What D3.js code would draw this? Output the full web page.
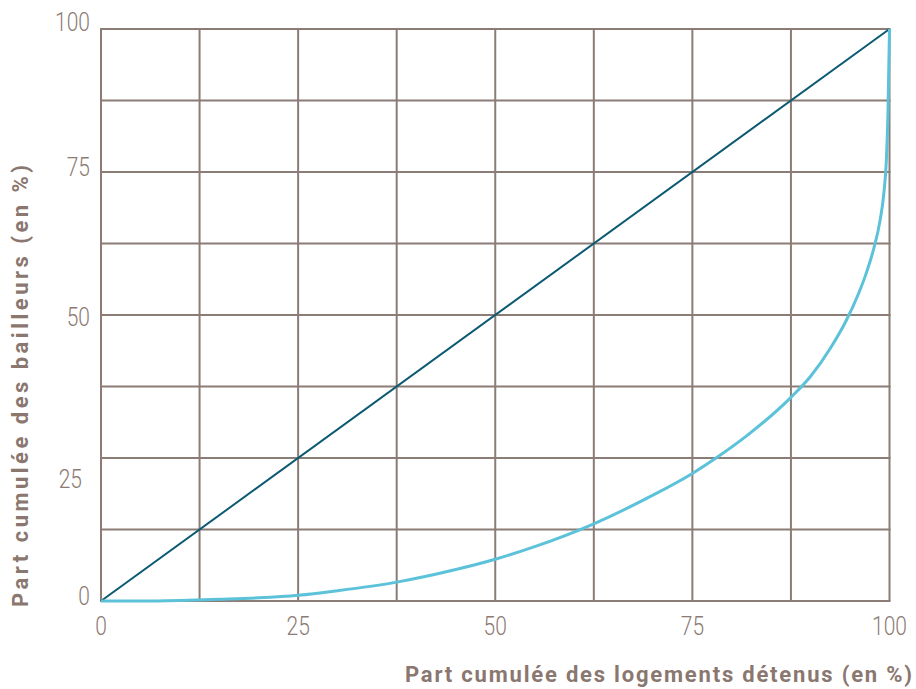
<!DOCTYPE html>
<html>
<head>
<meta charset="utf-8">
<script src="https://cdn.jsdelivr.net/npm/d3@7"></script>
<style>
  html, body { margin: 0; padding: 0; background: #ffffff; }
  svg { display: block; }
  text { font-family: "Roboto", "Liberation Sans", sans-serif; }
</style>
</head>
<body>
<svg id="chart" width="916" height="689"></svg>
<script>
// ---- Data ----
const tickValues = [0, 25, 50, 75, 100];
const gridValues = [0, 12.5, 25, 37.5, 50, 62.5, 75, 87.5, 100];
const equalityX = [0, 100];
const equalityY = [0, 100];
const lorenzX = [0, 5, 10, 15, 20, 25, 30, 37.5, 45, 50, 55, 62.5, 70, 75, 78, 82, 87.5, 90, 92.5, 94.5, 96, 97, 98, 98.8, 99.3, 99.6, 99.8, 100];
const lorenzY = [0, 0, 0.1, 0.3, 0.55, 1.0, 1.8, 3.3, 5.5, 7.3, 9.5, 13.5, 18.5, 22.3, 25, 29.0, 35.6, 39.3, 44.2, 49.0, 53.5, 57.1, 61.6, 66.5, 71.5, 77, 85, 100];
const xTitle = "Part cumulée des logements détenus (en %)";
const yTitle = "Part cumulée des bailleurs (en %)";

// ---- Layout ----
const mLeft = 101, mRight = 889.5, mTop = 29, mBottom = 601;
const gridColor = "#8b7c75";
const textColor = "#8c7b74";
const titleColor = "#8a776f";
// per-tick nudges of y labels as in the reference
const yLabelDy = [-5, 21, 2, -5, -7];
const yLabelDx = [0, -8, 0, 0, 0];
const condense = 0.84;

const svg = d3.select("#chart");
const x = d3.scaleLinear().domain([0, 100]).range([mLeft, mRight]);
const y = d3.scaleLinear().domain([0, 100]).range([mBottom, mTop]);

// grid
const g = svg.append("g");
g.selectAll("line.v").data(gridValues).join("line")
  .attr("class", "v")
  .attr("x1", d => x(d)).attr("x2", d => x(d))
  .attr("y1", mTop).attr("y2", mBottom)
  .attr("stroke", gridColor).attr("stroke-width", 2);
g.selectAll("line.h").data(gridValues).join("line")
  .attr("class", "h")
  .attr("y1", d => y(d)).attr("y2", d => y(d))
  .attr("x1", mLeft - 1).attr("x2", mRight + 1)
  .attr("stroke", gridColor).attr("stroke-width", 2);

// x tick labels
svg.append("g").selectAll("text").data(tickValues).join("text")
  .attr("transform", d => `translate(${x(d)},635) scale(${condense},1)`)
  .attr("text-anchor", "middle")
  .attr("font-size", 25).attr("font-weight", 300)
  .attr("fill", textColor)
  .text(d => d);

// y tick labels
svg.append("g").selectAll("text").data(tickValues).join("text")
  .attr("transform", (d, i) => `translate(${90 + yLabelDx[i]},${y(d) + 9 + yLabelDy[i]}) scale(${condense},1)`)
  .attr("text-anchor", "end")
  .attr("font-size", 25).attr("font-weight", 300)
  .attr("fill", textColor)
  .text(d => d);

// lines
const line = d3.line().x(d => x(d[0])).y(d => y(d[1]));
svg.append("path")
  .datum(equalityX.map((v, i) => [v, equalityY[i]]))
  .attr("d", line)
  .attr("fill", "none").attr("stroke", "#0b5a72").attr("stroke-width", 2);

const curve = d3.line().curve(d3.curveMonotoneX).x(d => x(d[0])).y(d => y(d[1]));
svg.append("path")
  .datum(lorenzX.map((v, i) => [v, lorenzY[i]]))
  .attr("d", curve)
  .attr("fill", "none").attr("stroke", "#5bc2da").attr("stroke-width", 3)
  .attr("stroke-linejoin", "round");

// axis titles
svg.append("text")
  .attr("x", 912).attr("y", 682)
  .attr("text-anchor", "end")
  .attr("font-size", 22).attr("font-weight", "bold")
  .attr("fill", titleColor)
  .attr("textLength", 507).attr("lengthAdjust", "spacing")
  .text(xTitle);

svg.append("text")
  .attr("transform", "translate(28,607) rotate(-90)")
  .attr("text-anchor", "start")
  .attr("font-size", 22).attr("font-weight", "bold")
  .attr("fill", titleColor)
  .attr("textLength", 442).attr("lengthAdjust", "spacing")
  .text(yTitle);
</script>
</body>
</html>
